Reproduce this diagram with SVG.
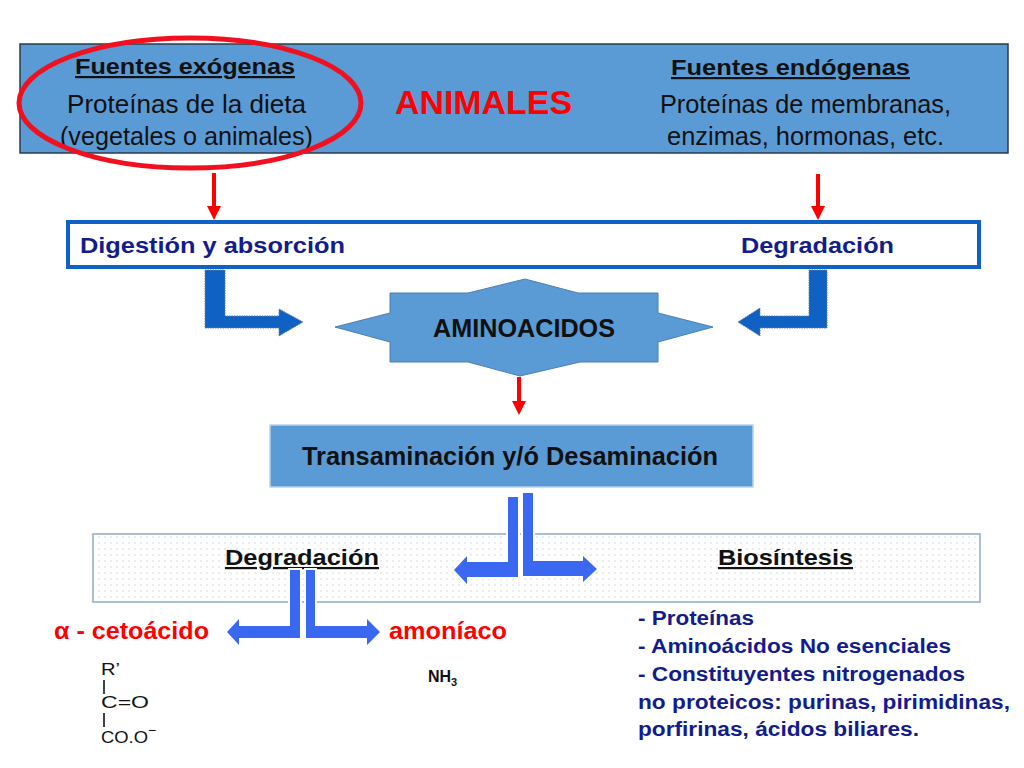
<svg xmlns="http://www.w3.org/2000/svg" width="1024" height="768" viewBox="0 0 1024 768">
<style>
text{font-family:"Liberation Sans",Arial,sans-serif}
.b{font-weight:bold}
.u{text-decoration:underline}
.nav{fill:#121c8c}
.red{fill:#ff0000}
.blk{fill:#111}
.bent{fill:#0f62c4;stroke:#6a7f99;stroke-width:1;stroke-dasharray:1.5 1}
.split{fill:#3a68f0;stroke:#ffffff;stroke-width:4;paint-order:stroke;stroke-linejoin:miter}
.rarrow{stroke:#ff0000;stroke-width:4;fill:none;marker-end:url(#rh)}
</style>
<defs>
<marker id="rh" markerUnits="userSpaceOnUse" markerWidth="16" markerHeight="16" refX="0" refY="7" orient="auto" viewBox="0 0 16 14">
<polygon points="0,0 14,7 0,14" fill="#ff0000"/>
</marker>
<pattern id="dots" width="6" height="6" patternUnits="userSpaceOnUse">
<rect width="6" height="6" fill="#ffffff"/>
<circle cx="3" cy="3" r="0.7" fill="#c9ccd2"/>
</pattern>
</defs>
<rect width="1024" height="768" fill="#ffffff"/>

<g id="animales">
<rect x="20" y="44" width="988" height="109" fill="#5b9bd5" stroke="#2e3b48" stroke-width="1.5"/>
<text x="75" y="74" class="b u blk" font-size="22" textLength="220" lengthAdjust="spacingAndGlyphs">Fuentes exógenas</text>
<text x="67" y="113" class="blk" font-size="25" textLength="239" lengthAdjust="spacingAndGlyphs">Proteínas de la dieta</text>
<text x="60" y="145" class="blk" font-size="25" textLength="253" lengthAdjust="spacingAndGlyphs">(vegetales o animales)</text>
<text x="395" y="114" class="b red" font-size="34" textLength="177" lengthAdjust="spacingAndGlyphs">ANIMALES</text>
<text x="671" y="75" class="b u blk" font-size="22" textLength="239" lengthAdjust="spacingAndGlyphs">Fuentes endógenas</text>
<text x="660" y="113" class="blk" font-size="25" textLength="291" lengthAdjust="spacingAndGlyphs">Proteínas de membranas,</text>
<text x="667" y="145" class="blk" font-size="25" textLength="277" lengthAdjust="spacingAndGlyphs">enzimas, hormonas, etc.</text>
<ellipse cx="190" cy="103" rx="171" ry="65" fill="none" stroke="#f01020" stroke-width="5"/>
</g>

<g id="digestion">
<rect x="68" y="222" width="911" height="45" fill="#ffffff" stroke="#1061c4" stroke-width="4"/>
<text x="80" y="253" class="b nav" font-size="22" textLength="265" lengthAdjust="spacingAndGlyphs">Digestión y absorción</text>
<text x="741" y="253" class="b nav" font-size="22" textLength="153" lengthAdjust="spacingAndGlyphs">Degradación</text>
</g>

<g id="aminoacidos">
<polygon points="335,327 390,313 390,293 468,293 525,279 578,293 658,293 658,313 713,327 658,342 658,362 580,362 520,376 468,362 390,362 390,342" fill="#5b9bd5" stroke="#4a7fb5" stroke-width="1"/>
<text x="433" y="337" class="b blk" font-size="25" textLength="182" lengthAdjust="spacingAndGlyphs">AMINOACIDOS</text>
</g>

<g id="transaminacion">
<rect x="270" y="425" width="483" height="62" fill="#5b9bd5" stroke="#b7d2ec" stroke-width="1.5"/>
<text x="302" y="465" class="b blk" font-size="25" textLength="416" lengthAdjust="spacingAndGlyphs">Transaminación y/ó Desaminación</text>
</g>

<g id="destino">
<rect x="93" y="534" width="887" height="68" fill="url(#dots)" stroke="#8fa9c6" stroke-width="1.5"/>
<text x="225" y="565" class="b u blk" font-size="22" textLength="154" lengthAdjust="spacingAndGlyphs">Degradación</text>
<text x="718" y="565" class="b u blk" font-size="22" textLength="135" lengthAdjust="spacingAndGlyphs">Biosíntesis</text>
</g>

<g id="cetoacido">
<text x="54" y="639" class="b red" font-size="23" textLength="155" lengthAdjust="spacingAndGlyphs">α - cetoácido</text>
<text x="101" y="675" class="blk" font-size="17" textLength="19" lengthAdjust="spacingAndGlyphs">R’</text>
<line x1="104" y1="680" x2="104" y2="694" stroke="#111" stroke-width="1.6"/>
<text x="101" y="708" class="blk" font-size="17" textLength="48" lengthAdjust="spacingAndGlyphs">C=O</text>
<line x1="104" y1="713" x2="104" y2="727" stroke="#111" stroke-width="1.6"/>
<text x="101" y="743" class="blk" font-size="17" textLength="47" lengthAdjust="spacingAndGlyphs">CO.O</text>
<text x="148" y="735" class="blk" font-size="14">−</text>
</g>

<g id="amoniaco">
<text x="389" y="639" class="b red" font-size="23" textLength="118" lengthAdjust="spacingAndGlyphs">amoníaco</text>
<text x="428" y="682" class="b blk" font-size="16">NH<tspan font-size="11" dy="4">3</tspan></text>
</g>

<g id="biosintesis">
<text x="638" y="625" class="b nav" font-size="20" textLength="116" lengthAdjust="spacingAndGlyphs">- Proteínas</text>
<text x="638" y="653" class="b nav" font-size="20" textLength="313" lengthAdjust="spacingAndGlyphs">- Aminoácidos No esenciales</text>
<text x="638" y="681" class="b nav" font-size="20" textLength="327" lengthAdjust="spacingAndGlyphs">- Constituyentes nitrogenados</text>
<text x="638" y="709" class="b nav" font-size="20" textLength="372" lengthAdjust="spacingAndGlyphs">no proteicos: purinas, pirimidinas,</text>
<text x="638" y="736" class="b nav" font-size="20" textLength="281" lengthAdjust="spacingAndGlyphs">porfirinas, ácidos biliares.</text>
</g>

<g id="connectors">
<line x1="214" y1="173" x2="214" y2="206" class="rarrow"/>
<line x1="818" y1="174" x2="818" y2="206" class="rarrow"/>
<line x1="519" y1="377" x2="519" y2="401" class="rarrow"/>
<polygon class="bent" points="205,270 225,270 225,316 279,316 279,309 303,322 279,336 279,328 205,328"/>
<polygon class="bent" points="809,270 827,270 827,328 760,328 760,336 738,322 760,308 760,316 809,316"/>
<polygon class="split" points="508,497 518,497 518,577 467,577 467,584 454,570 467,556 467,562 508,562"/>
<polygon class="split" points="523,493 533,493 533,561 583,561 583,556 597,569 583,582 583,576 523,576"/>
<polygon class="split" points="290,570 300,570 300,638 239,638 239,645 227,632 239,619 239,626 290,626"/>
<polygon class="split" points="306,570 315,570 315,626 367,626 367,619 380,632 367,645 367,638 306,638"/>
</g>
</svg>
